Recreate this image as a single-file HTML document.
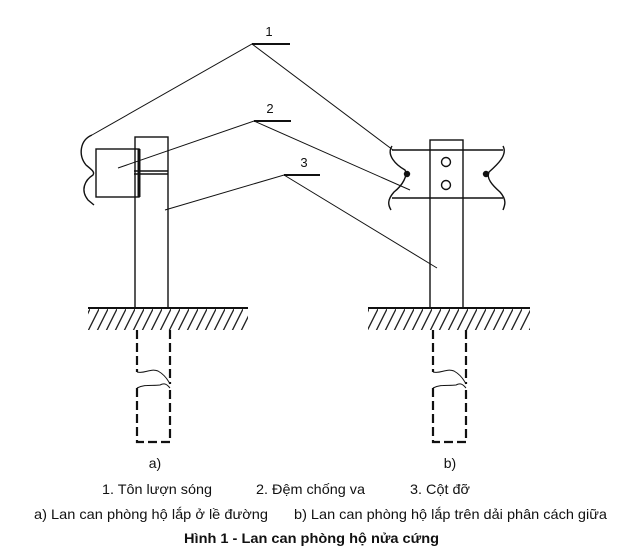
<!DOCTYPE html>
<html><head><meta charset="utf-8"><style>
body{margin:0;background:#fff;width:640px;height:550px;overflow:hidden;font-family:"Liberation Sans",Arial,sans-serif}
svg{position:absolute;left:0;top:0}
</style></head><body>
<svg width="640" height="550" viewBox="0 0 640 550">
<defs>
<pattern id="h" x="0" y="309" width="9" height="22" patternUnits="userSpaceOnUse">
<line x1="9" y1="0" x2="-2" y2="22" stroke="#222" stroke-width="1.3"/>
<line x1="18" y1="0" x2="7" y2="22" stroke="#222" stroke-width="1.3"/>
</pattern>
</defs>
<g stroke="#111" fill="none" stroke-width="1.4">
<rect x="135" y="137" width="33" height="171"/>
<rect x="96" y="149" width="43" height="48"/>
<line x1="139" y1="149" x2="139" y2="197" stroke-width="3"/>
<line x1="134" y1="171" x2="168" y2="171"/>
<line x1="134" y1="174" x2="168" y2="174"/>
<path d="M92,135 C80,140 78,155 86,165 C92,170 95,172 93,175 C85,180 80,190 88,200 L94,205"/>
<line x1="88" y1="308" x2="248" y2="308" stroke-width="2"/>
<rect x="88" y="309" width="160" height="21" fill="url(#h)" stroke="none"/>
<g stroke-width="2.2" stroke-dasharray="9,4">
<path d="M137,330 L137,372"/><path d="M170,330 L170,384"/>
<path d="M137,388 L137,442 L170,442 L170,388"/>
</g>
<path d="M137,372 C145,374 150,368 158,371 C165,375 168,380 170,384" stroke-width="1"/>
<path d="M137,388 C145,384 152,386 160,385 C166,382 168,386 170,388" stroke-width="1"/>
<rect x="430" y="140" width="33" height="168"/>
<line x1="392" y1="150" x2="503" y2="150"/>
<line x1="392" y1="198" x2="503" y2="198"/>
<circle cx="446" cy="162" r="4.5"/><circle cx="446" cy="185" r="4.5"/>
<path d="M392,146 C386,155 396,165 405,170 C408,175 403,185 394,192 C387,200 388,205 391,210"/>
<path d="M503,146 C508,155 497,165 489,172 C486,178 492,185 500,192 C507,200 505,205 503,210"/>
<circle cx="407" cy="174" r="2.5" fill="#111"/><circle cx="486" cy="174" r="2.5" fill="#111"/>
<line x1="368" y1="308" x2="530" y2="308" stroke-width="2"/>
<rect x="368" y="309" width="162" height="21" fill="url(#h)" stroke="none"/>
<g stroke-width="2.2" stroke-dasharray="9,4">
<path d="M433,330 L433,372"/><path d="M466,330 L466,384"/>
<path d="M433,388 L433,442 L466,442 L466,388"/>
</g>
<path d="M433,372 C441,374 446,368 454,371 C461,375 464,380 466,384" stroke-width="1"/>
<path d="M433,388 C441,384 448,386 456,385 C462,382 464,386 466,388" stroke-width="1"/>
<g stroke-width="1">
<polyline points="92,135 252,44 393,150"/>
<polyline points="118,168 254,121 410,190"/>
<polyline points="165,210 284,175 437,268"/>
</g>
<g stroke-width="2">
<line x1="252" y1="44" x2="290" y2="44"/>
<line x1="254" y1="121" x2="291" y2="121"/>
<line x1="284" y1="175" x2="320" y2="175"/>
</g>
</g>
<g font-size="13" fill="#111" text-anchor="middle">
<text x="269" y="36">1</text>
<text x="270" y="113">2</text>
<text x="304" y="167">3</text>
<text x="155" y="468" font-size="14">a)</text>
<text x="450" y="468" font-size="14">b)</text>
</g>
<g font-size="14" fill="#111">
<text x="102" y="494" textLength="110" lengthAdjust="spacingAndGlyphs">1. Tôn lượn sóng</text>
<text x="256" y="494" textLength="109" lengthAdjust="spacingAndGlyphs">2. Đệm chống va</text>
<text x="410" y="494" textLength="60" lengthAdjust="spacingAndGlyphs">3. Cột đỡ</text>
<text x="34" y="519" textLength="234" lengthAdjust="spacingAndGlyphs">a) Lan can phòng hộ lắp ở lề đường</text>
<text x="294" y="519" textLength="313" lengthAdjust="spacingAndGlyphs">b) Lan can phòng hộ lắp trên dải phân cách giữa</text>
<text x="184" y="543" font-weight="bold" textLength="255" lengthAdjust="spacingAndGlyphs">Hình 1 - Lan can phòng hộ nửa cứng</text>
</g>
</svg>
</body></html>
